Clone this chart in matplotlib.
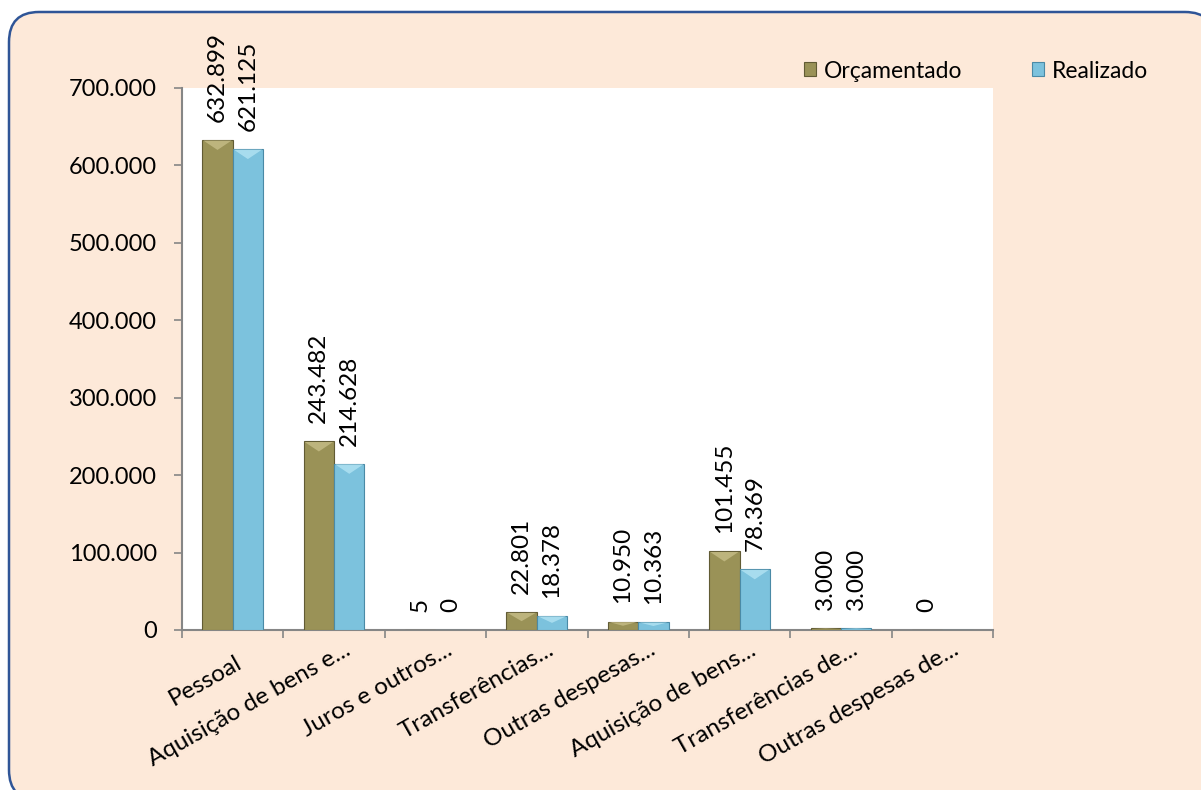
import matplotlib
matplotlib.use("Agg")
import matplotlib.pyplot as plt
import matplotlib.transforms as mtransforms
from matplotlib.patches import FancyBboxPatch, Polygon
from matplotlib.ticker import FuncFormatter, FixedLocator
import numpy as np

categories = ["Pessoal", "Aquisição de bens e...", "Juros e outros...", "Transferências...",
              "Outras despesas...", "Aquisição de bens...", "Transferências de...", "Outras despesas de..."]
orcamentado = [632899, 243482, 5, 22801, 10950, 101455, 3000, 0]
realizado = [621125, 214628, 0, 18378, 10363, 78369, 3000, None]
series_names = ["Orçamentado", "Realizado"]

plt.rcParams['font.family'] = ['Lato', 'DejaVu Sans']

fig = plt.figure(figsize=(12.01, 7.90), dpi=100, facecolor='white')
bg = FancyBboxPatch((0.09, -0.10), 12.06, 7.88,
                    boxstyle="round,pad=0,rounding_size=0.3",
                    transform=fig.dpi_scale_trans, facecolor='#FDE9D9', edgecolor='#2F5597',
                    linewidth=1.8, zorder=-10)
fig.patches.append(bg)

ax = fig.add_axes([182/1201, 1 - 630/790, (993 - 182)/1201, (630 - 88)/790])
ax.set_facecolor('white')

x = np.arange(len(categories))
w = 0.3
cols = [('#9A9257', '#615B34', '#C9C08A'), ('#7CC2DD', '#4A8AA6', '#B6E6F5')]
vals_list = [orcamentado, realizado]
ax.set_xlim(-0.5, len(categories) - 0.5)
ax.set_ylim(0, 700000)
all_bars = []
for i, (vals, name) in enumerate(zip(vals_list, series_names)):
    v = np.array([np.nan if a is None else a for a in vals], dtype=float)
    bars = ax.bar(x + (i - 0.5) * w, np.nan_to_num(v), width=w, color=cols[i][0],
                  edgecolor=cols[i][1], linewidth=0.8, label=name, zorder=3)
    all_bars.append((bars, cols[i]))
    for b, val in zip(bars, v):
        if np.isnan(val):
            continue
        lab = f"{int(val):,}".replace(",", ".")
        ax.annotate(lab, (b.get_x() + b.get_width() / 2, b.get_height()),
                    xytext=(0, 13), textcoords='offset points', rotation=90,
                    ha='center', va='bottom', fontsize=17.5, color='black')

# bevel highlight on bar tops (derived from bar geometry)
inv = ax.transData.inverted()
for bars, c in all_bars:
    for b in bars:
        h = b.get_height()
        if h <= 0:
            continue
        (x0, y0) = ax.transData.transform((b.get_x(), 0))
        (x1, y1) = ax.transData.transform((b.get_x() + b.get_width(), h))
        depth = min(10, (y1 - y0) * 0.5)
        if depth < 1:
            continue
        pts_disp = [(x0 + 1, y1 - 0.5), (x1 - 1, y1 - 0.5), ((x0 + x1) / 2, y1 - depth)]
        pts = inv.transform(pts_disp)
        ax.add_patch(Polygon(pts, closed=True, facecolor=c[2], edgecolor='none',
                             alpha=0.75, zorder=4))

ax.yaxis.set_major_locator(FixedLocator(np.arange(0, 700001, 100000)))
ax.yaxis.set_major_formatter(FuncFormatter(lambda v, p: f"{int(v):,}".replace(",", ".")))
ax.tick_params(axis='y', labelsize=17, length=6, width=1.2, color='#868686', pad=12)
ax.set_xticks(np.arange(-0.5, len(categories), 1.0))
ax.set_xticklabels([])
ax.tick_params(axis='x', length=6, width=1.2, color='#868686')
for s in ['top', 'right']:
    ax.spines[s].set_visible(False)
for s in ['left', 'bottom']:
    ax.spines[s].set_color('#868686')
    ax.spines[s].set_linewidth(1.5)

for xi, c in zip(x, categories):
    if c.endswith('...'):
        dx, dy = 10, -9
    else:
        dx, dy = 2, -22
    off = mtransforms.ScaledTranslation(dx/100, dy/100, fig.dpi_scale_trans)
    ax.text(xi, 0, c, rotation=29.5, ha='right', va='top', rotation_mode='anchor',
            fontsize=17.5, transform=ax.get_xaxis_transform() + off)

leg = fig.legend(loc='center', bbox_to_anchor=(976/1201, 1 - 71/790), ncol=2, frameon=False,
                 fontsize=16.5, handlelength=0.55, handleheight=0.55, handletextpad=0.35,
                 columnspacing=3.0)

fig.savefig("out.png", dpi=100, facecolor='white')
